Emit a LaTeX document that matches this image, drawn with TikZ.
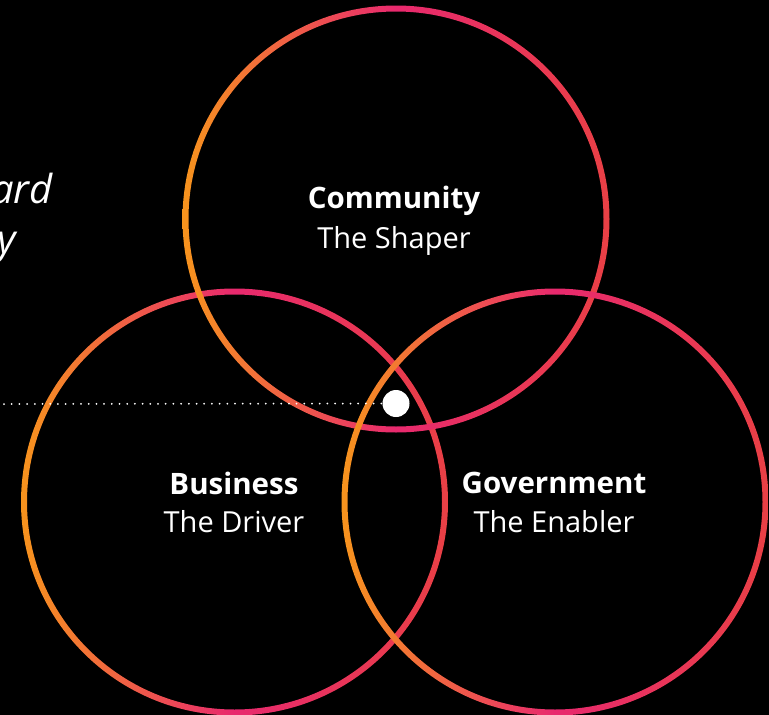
\documentclass[tikz,border=0pt]{standalone}
\usepackage{fontspec}
\setmainfont{Open Sans}
\definecolor{cOr}{HTML}{F7941D}
\definecolor{cPk}{HTML}{E8296E}
\definecolor{cRd}{HTML}{E94045}
\begin{document}
\begin{tikzpicture}[x=1pt,y=-1pt,
  ring/.style={even odd rule, left color=cOr, right color=cRd, middle color=cPk},
  title/.style={text=white, font=\fontsize{29.5}{34}\selectfont\bfseries, inner sep=0pt},
  sub/.style={text=white, font=\fontsize{29}{34}\selectfont, inner sep=0pt},
  side/.style={text=white, font=\fontsize{40}{48}\selectfont\itshape, inner sep=0pt, anchor=base east}]
\fill[black] (0,0) rectangle (769,715);
\useasboundingbox (0,0) rectangle (769,715);
\coordinate (cT) at (396,219);
\coordinate (cL) at (234.5,502);
\coordinate (cR) at (555,502);
\path[ring] (cL) circle[radius=213.5] (cL) circle[radius=207.5];
\path[ring] (cT) circle[radius=213.5] (cT) circle[radius=207.5];
\path[ring] (cR) circle[radius=213.5] (cR) circle[radius=207.5];
\coordinate (d0) at (0,404);
\node[circle, fill=white, minimum size=27pt, inner sep=0pt] (dot) at (396,403.5) {};
\draw[white, line width=2pt, line cap=round, dash pattern=on 0pt off 7.7pt] ([xshift=4pt]d0) -- (dot.west);
\node[title] (tC) at (394,201) {Community};
\node[sub] (sC) at (394,241) {The Shaper};
\node[title] (tB) at (234,483) {Business};
\node[sub] (sB) at (234,522) {The Driver};
\node[title] (tG) at (554,483) {Government};
\node[sub] (sG) at (554,522) {The Enabler};
\node[side] (s1) at (53,203) {ard};
\node[side] (s2) at (16,253) {y};
\end{tikzpicture}
\end{document}
